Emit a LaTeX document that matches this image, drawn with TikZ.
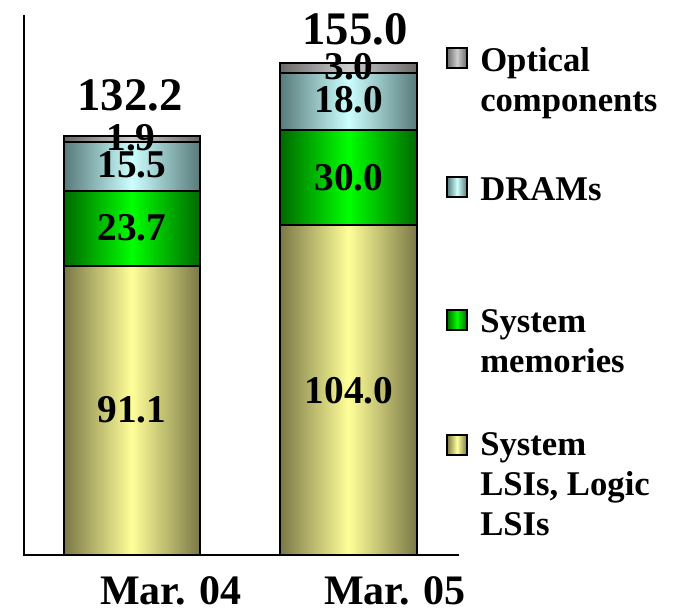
\documentclass[tikz,border=0pt]{standalone}
\usepackage{fontspec}
\setmainfont{Liberation Serif}
\definecolor{lsidark}{RGB}{122,120,70}
\definecolor{lsilight}{RGB}{255,255,153}
\definecolor{memdark}{RGB}{0,105,0}
\definecolor{memlight}{RGB}{0,255,0}
\definecolor{dramdark}{RGB}{88,122,122}
\definecolor{dramlight}{RGB}{204,255,255}
\definecolor{optdark}{RGB}{105,105,105}
\definecolor{optlight}{RGB}{205,205,205}
\begin{document}
\begin{tikzpicture}[x=0.75pt,y=-0.75pt,
  seg/.style={draw=black, line width=1.4pt},
  lsi/.style={seg, left color=lsidark, right color=lsidark, middle color=lsilight},
  mem/.style={seg, left color=memdark, right color=memdark, middle color=memlight},
  dram/.style={seg, left color=dramdark, right color=dramdark, middle color=dramlight},
  opt/.style={seg, left color=optdark, right color=optdark, middle color=optlight},
  num/.style={font=\bfseries\fontsize{29.5}{32}\selectfont, inner sep=0pt},
  tot/.style={font=\bfseries\fontsize{35}{40}\selectfont, inner sep=0pt, anchor=base},
  cat/.style={font=\bfseries\fontsize{31.5}{36}\selectfont, inner sep=0pt, anchor=base},
  leg/.style={font=\bfseries\fontsize{26}{30}\selectfont, align=left, anchor=base west, inner sep=0pt},
  legmark/.style={draw=black, line width=1.3pt, minimum size=15pt, inner sep=0pt}
]
\useasboundingbox (0,0) rectangle (675,611);
% bar 1
\path[lsi]  (64,555) rectangle (200,266);
\path[mem]  (64,266) rectangle (200,191);
\path[dram] (64,191) rectangle (200,142);
\path[opt]  (64,142) rectangle (200,136);
% bar 2
\path[lsi]  (280,555) rectangle (417,225);
\path[mem]  (280,225) rectangle (417,130);
\path[dram] (280,130) rectangle (417,73);
\path[opt]  (280,73) rectangle (417,63);
% axes
\draw[line width=1.4pt] (24,15) -- (24,555) -- (459,555);
% labels bar 1
\node[num] (a1) at (132,410) {91.1};
\node[num] (a2) at (132,228) {23.7};
\node[num] (a3) at (132,165) {15.5};
\node[num] (a4) at (131,138) {1.9};
\node[tot] (at) at (130,110) {132.2};
% labels bar 2
\node[num] (b1) at (349,391) {104.0};
\node[num] (b2) at (349,178) {30.0};
\node[num] (b3) at (349,100) {18.0};
\node[num] (b4) at (349,67) {3.0};
\node[tot] (bt) at (355,44) {155.0};
% categories
\node[cat] (c1) at (171,604) {Mar. 04};
\node[cat] (c2) at (395,604) {Mar. 05};
% legend
\node[legmark, left color=optdark, right color=optdark, middle color=optlight] (m1) at (457,58) {};
\node[leg] (l1) at (480,111) {Optical\\components};
\node[legmark, left color=dramdark, right color=dramdark, middle color=dramlight] (m2) at (457,187) {};
\node[leg] (l2) at (480,200) {DRAMs};
\node[legmark, left color=memdark, right color=memdark, middle color=memlight] (m3) at (457,320) {};
\node[leg] (l3) at (480,372) {System\\memories};
\node[legmark, left color=lsidark, right color=lsidark, middle color=lsilight] (m4) at (457,445) {};
\node[leg] (l4) at (480,535) {System\\LSIs, Logic\\LSIs};
\end{tikzpicture}
\end{document}
